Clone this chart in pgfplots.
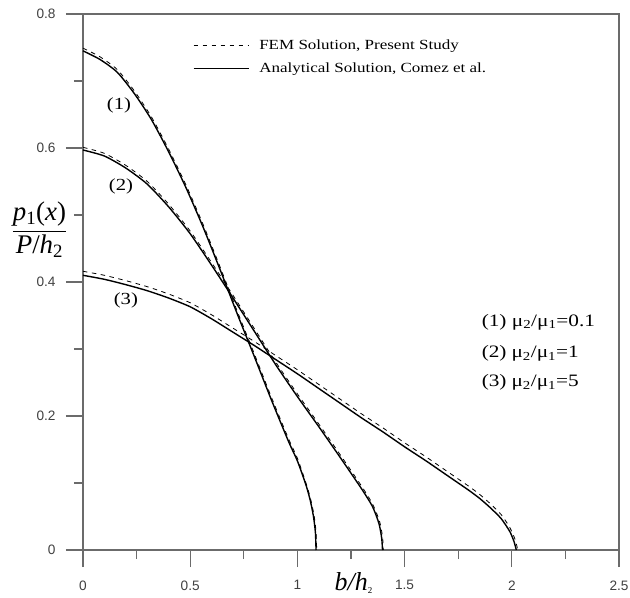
\documentclass[border=0pt]{standalone}
\usepackage{pgfplots}
\pgfplotsset{compat=1.18}
\usepackage{fontspec}
\setmainfont{Liberation Serif}
\newfontfamily\arialfont{Liberation Sans}
\newfontfamily\widefont[FakeStretch=1.22]{Liberation Serif}

\pgfplotstableread{
x y
0 0.745
0.08 0.732
0.16 0.713
0.24 0.681
0.32 0.642
0.40 0.594
0.48 0.541
0.56 0.482
0.64 0.418
0.72 0.352
0.80 0.288
0.88 0.223
0.96 0.161
1.00 0.133
1.04 0.097
1.06 0.074
1.075 0.050
1.084 0.026
1.087 0.0
}\anaone
\pgfplotstableread{
x y
0 0.597
0.1 0.588
0.2 0.570
0.3 0.546
0.4 0.512
0.5 0.472
0.6 0.425
0.7 0.376
0.8 0.326
0.9 0.276
1.0 0.229
1.1 0.184
1.2 0.138
1.3 0.091
1.35 0.065
1.38 0.040
1.393 0.018
1.397 0.0
}\anatwo
\pgfplotstableread{
x y
0 0.410
0.1 0.404
0.2 0.396
0.3 0.387
0.4 0.376
0.5 0.363
0.6 0.345
0.7 0.325
0.8 0.305
0.9 0.284
1.0 0.263
1.1 0.241
1.2 0.219
1.3 0.197
1.4 0.176
1.5 0.154
1.6 0.133
1.7 0.111
1.8 0.089
1.85 0.077
1.9 0.063
1.95 0.047
1.99 0.028
2.01 0.013
2.021 0.0
}\anathree
\pgfplotstableread{
x y
0 0.749
0.08 0.736
0.16 0.717
0.24 0.685
0.32 0.646
0.40 0.598
0.48 0.545
0.56 0.486
0.64 0.422
0.72 0.356
0.80 0.292
0.88 0.227
0.96 0.165
1.00 0.137
1.04 0.100
1.06 0.078
1.077 0.053
1.087 0.027
1.09 0.0
}\femone
\pgfplotstableread{
x y
0 0.601
0.1 0.592
0.2 0.574
0.3 0.550
0.4 0.516
0.5 0.476
0.6 0.429
0.7 0.380
0.8 0.330
0.9 0.280
1.0 0.233
1.1 0.188
1.2 0.142
1.3 0.095
1.35 0.069
1.383 0.043
1.397 0.020
1.401 0.0
}\femtwo
\pgfplotstableread{
x y
0 0.416
0.1 0.410
0.2 0.402
0.3 0.393
0.4 0.382
0.5 0.369
0.6 0.351
0.7 0.331
0.8 0.311
0.9 0.290
1.0 0.269
1.1 0.247
1.2 0.225
1.3 0.203
1.4 0.182
1.5 0.160
1.6 0.139
1.7 0.117
1.8 0.095
1.85 0.083
1.9 0.069
1.95 0.053
1.99 0.034
2.015 0.016
2.028 0.0
}\femthree

\begin{document}
\begin{tikzpicture}
\path[use as bounding box] (-83bp,-48bp) rectangle (547bp,550bp);
\begin{axis}[
  at={(0,0)}, anchor=south west,
  scale only axis, width=536bp, height=536bp,
  xmin=0, xmax=2.5, ymin=0, ymax=0.8,
  xtick={0,0.5,1,1.5,2,2.5}, ytick={0,0.2,0.4,0.6,0.8},
  minor xtick={0.25,0.75,1.25,1.75,2.25},
  minor ytick={0.1,0.3,0.5,0.7},
  tick align=outside, xtick pos=bottom, ytick pos=left,
  major tick length=17bp, minor tick length=9bp,
  axis line style={black!58, line width=1.3bp},
  every tick/.style={black!58, line width=1.3bp},
  tick label style={font=\arialfont\fontsize{13.7}{15}\selectfont, text=black!75},
  /pgf/number format/assume math mode=true,
  xticklabel style={yshift=-10bp},
  yticklabel style={xshift=-7bp},
  clip=false,
  legend style={draw=none, fill=none, at={(0.205,0.958)}, anchor=north west,
    inner sep=0pt, outer sep=0pt, row sep=6.5bp,
    nodes={inner sep=3bp},
    /tikz/every odd column/.append style={column sep=7bp},
    font=\widefont\fontsize{14}{16}\selectfont},
  legend cell align=left,
  legend image code/.code={\draw[#1] (0bp,0bp) -- (55bp,0bp);},
  every axis plot/.append style={smooth, tension=0.4},
]
\addplot[black, line width=0.8bp, dash pattern=on 4.5bp off 4.5bp] table {\femone};
\addlegendentry{FEM Solution, Present Study}
\addplot[black, line width=1.4bp] table {\anaone};
\addlegendentry{Analytical Solution, Comez et al.}
\addplot[black, line width=0.8bp, dash pattern=on 4.5bp off 4.5bp, forget plot] table {\femtwo};
\addplot[black, line width=1.4bp, forget plot] table {\anatwo};
\addplot[black, line width=0.8bp, dash pattern=on 4.5bp off 4.5bp, forget plot] table {\femthree};
\addplot[black, line width=1.4bp, forget plot] table {\anathree};

\node[font=\widefont\fontsize{17}{19}\selectfont] at (axis cs:0.168,0.664) {(1)};
\node[font=\widefont\fontsize{17}{19}\selectfont] at (axis cs:0.177,0.542) {(2)};
\node[font=\widefont\fontsize{17}{19}\selectfont] at (axis cs:0.200,0.373) {(3)};

\node[font=\widefont\fontsize{17.5}{19}\selectfont, anchor=west, inner sep=0pt] at (axis cs:1.859,0.340) {(1) μ\textsubscript{2}/μ\textsubscript{1}=0.1};
\node[font=\widefont\fontsize{17.5}{19}\selectfont, anchor=west, inner sep=0pt] at (axis cs:1.859,0.293) {(2)\hspace{5bp}μ\textsubscript{2}/μ\textsubscript{1}=1};
\node[font=\widefont\fontsize{17.5}{19}\selectfont, anchor=west, inner sep=0pt] at (axis cs:1.859,0.250) {(3)\hspace{5bp}μ\textsubscript{2}/μ\textsubscript{1}=5};

\node[font=\fontsize{26}{30}\selectfont, anchor=base, inner sep=0pt] at (axis cs:1.263,-0.0597) {\textit{b/h}\textsubscript{\fontsize{9}{10}\selectfont 2}};
\node[font=\fontsize{27}{31}\selectfont, inner sep=0pt] at (axis cs:-0.203,0.478) {$\displaystyle\frac{\mbox{\textit{p}\textsubscript{1}(\textit{x})}}{\mbox{\textit{P}/\textit{h}\textsubscript{2}}}$};
\end{axis}
\end{tikzpicture}
\end{document}
